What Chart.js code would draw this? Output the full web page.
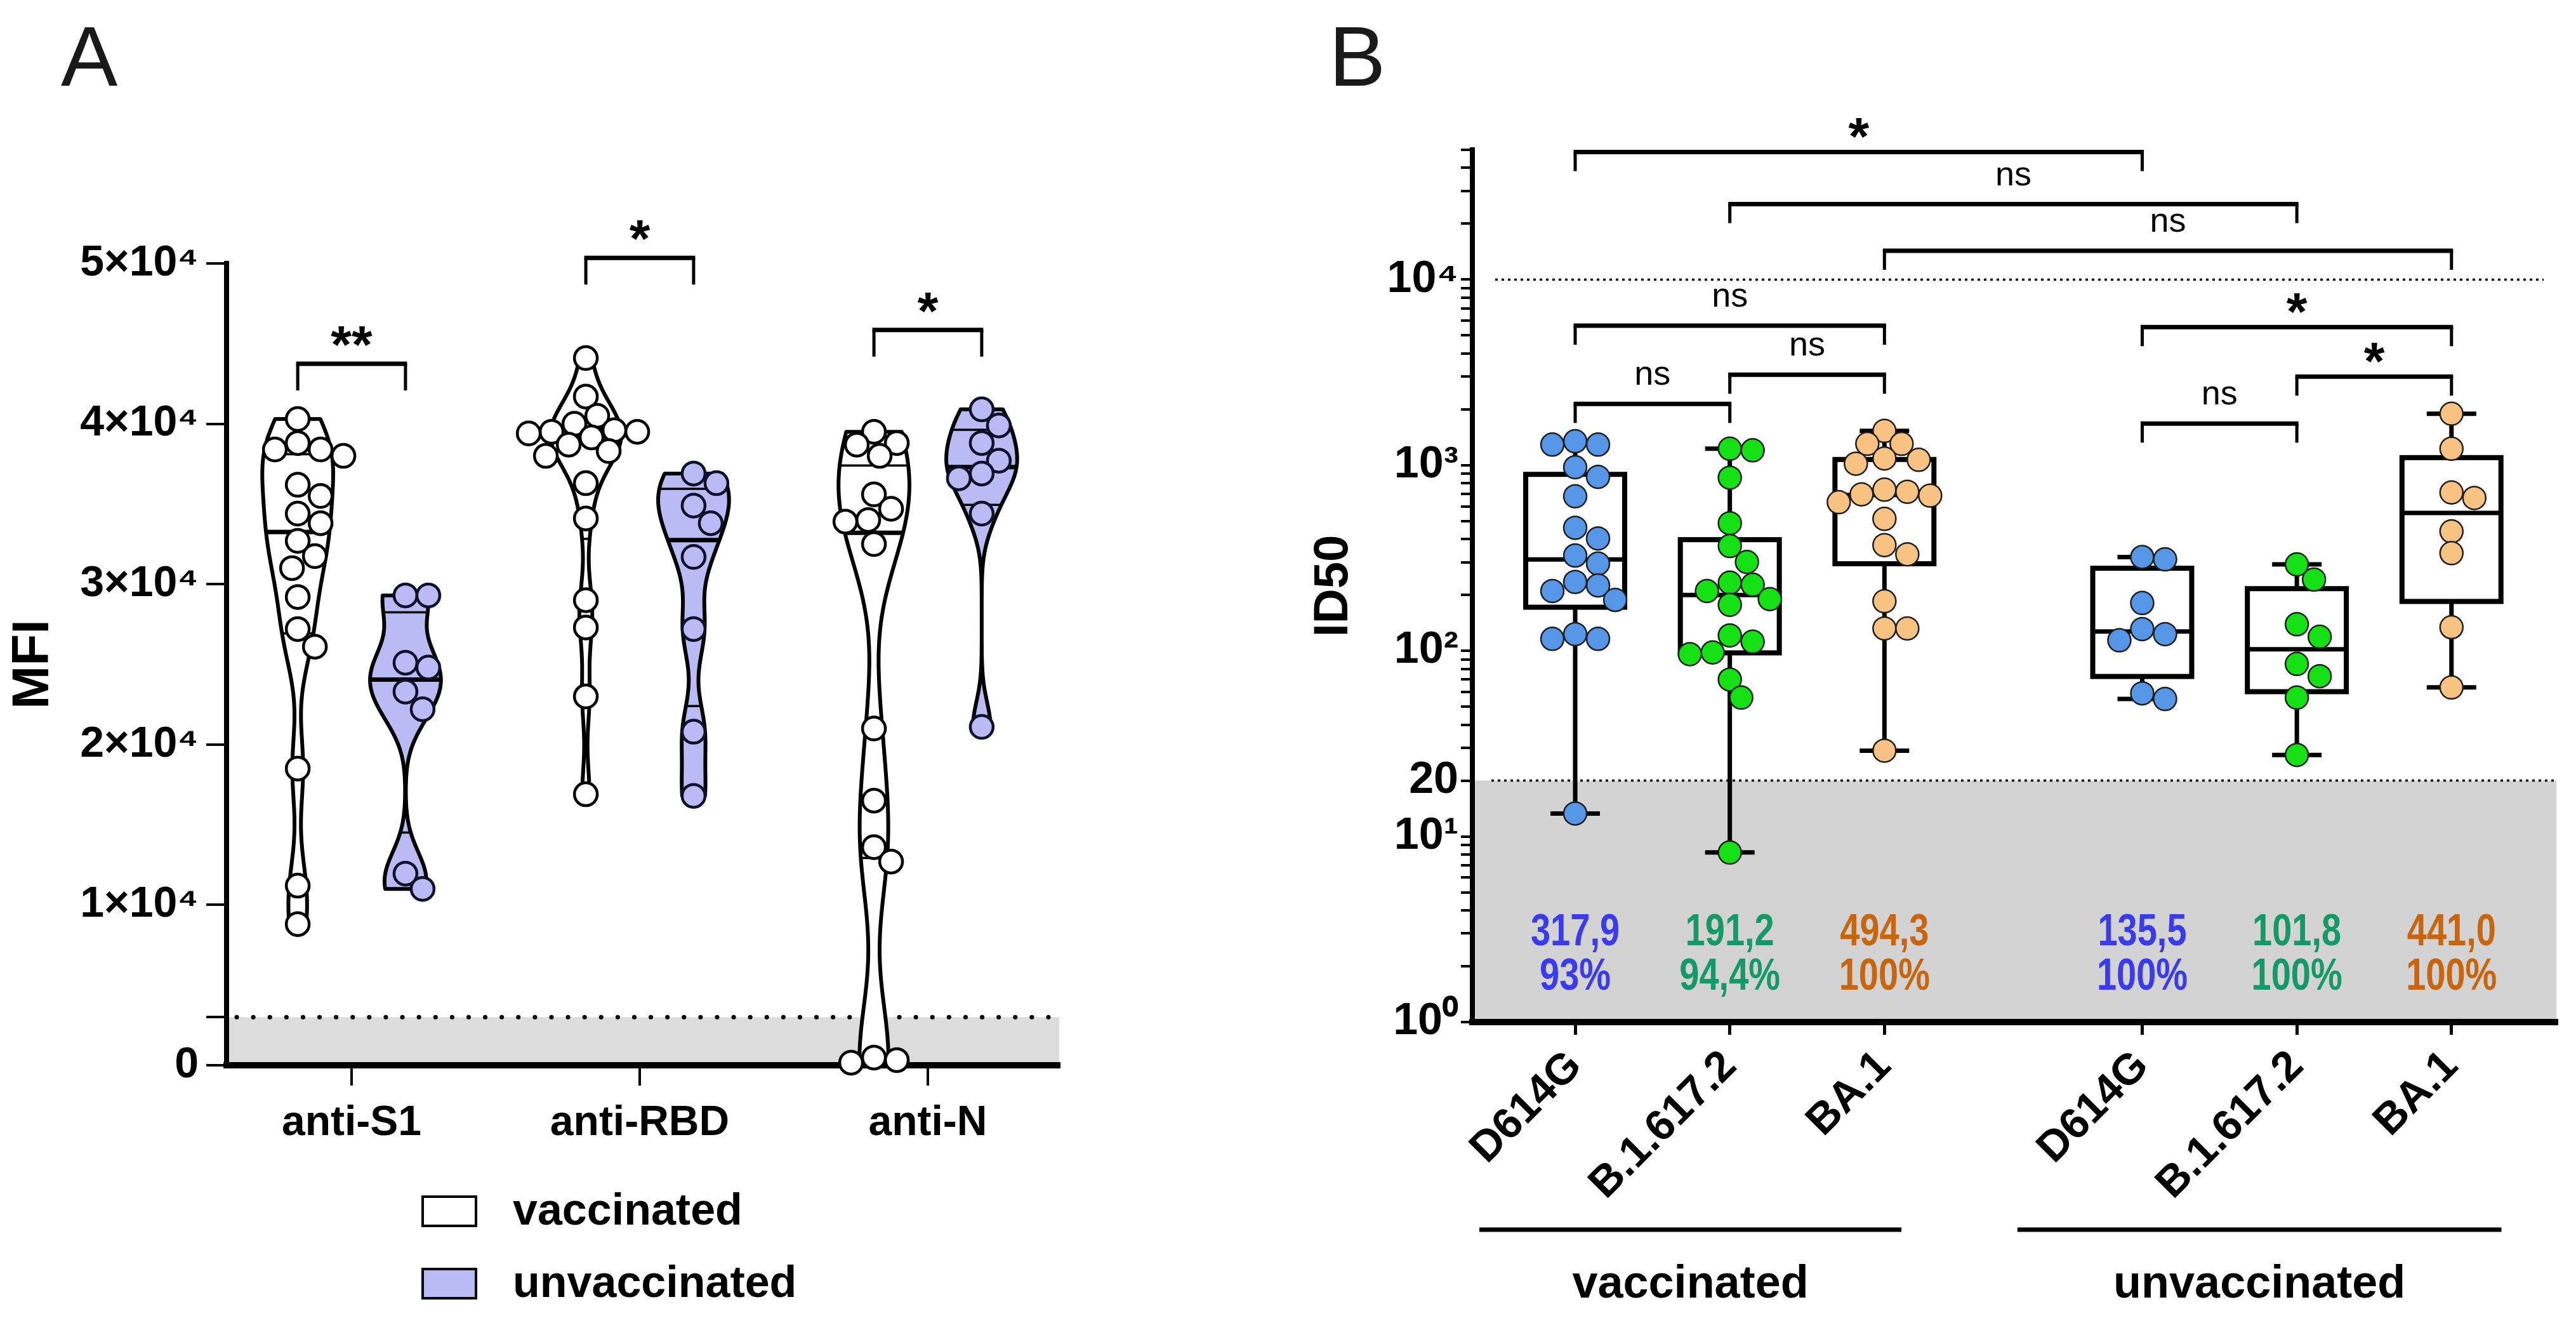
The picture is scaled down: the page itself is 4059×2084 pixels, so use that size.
<!DOCTYPE html>
<html>
<head>
<meta charset="utf-8">
<script src="https://cdn.jsdelivr.net/npm/chart.js@4.4.1/dist/chart.umd.min.js"></script>
<style>
    html, body { margin: 0; padding: 0; background: #fff; }
    body { width: 4059px; height: 2084px; position: relative; overflow: hidden; }
    #wrapA { position: absolute; left: 0; top: 0; width: 1760px; height: 2084px; }
    #wrapB { position: absolute; left: 2050px; top: 0; width: 2009px; height: 2084px; }
</style>
</head>
<body>
<div id="wrapA"><canvas id="chartA"></canvas></div>
<div id="wrapB"><canvas id="chartB"></canvas></div>
<script>
// ---------- Panel A: MFI (violins) ----------
const antigenLabels = ['anti-S1', 'anti-RBD', 'anti-N'];
const mfiTicks = [0, 3000, 10000, 20000, 30000, 40000, 50000];
const mfiCutoff = 3000;

const vaccS1 = [40300, 38800, 38400, 38400, 38000, 36200, 35500, 34400, 33800, 32700, 31750, 31000, 29200, 27200, 26100, 18500, 11200, 8800];
const unvacS1 = [29300, 29300, 25100, 24800, 23300, 22200, 11950, 11000];
const vaccRBD = [44100, 41700, 40500, 40000, 39600, 39500, 39500, 39400, 39150, 38700, 38300, 38000, 36300, 34100, 29000, 27300, 23000, 16900];
const unvacRBD = [36900, 36300, 34900, 33800, 31700, 27200, 20800, 16800];
const vaccN = [39500, 38800, 38700, 38000, 35600, 34700, 34000, 33900, 32500, 21000, 16500, 13600, 12700, 480, 320, 160];
const unvacN = [40900, 39900, 38800, 37700, 36900, 36600, 34400, 21100];

const pairMarksA = ['**', '*', '*'];
const pairLevelsA = [43750, 50350, 45850];

// ---------- Panel B: ID50 (boxes) ----------
const variantLabels = ['D614G', 'B.1.617.2', 'BA.1', 'D614G', 'B.1.617.2', 'BA.1'];
const variantPos = [0, 1, 2, 3.667, 4.667, 5.667];
const id50Major = [1, 10, 20, 100, 1000, 10000];
const id50MajorLabels = ['10\u2070', '10\u00b9', '20', '10\u00b2', '10\u00b3', '10\u2074'];
const id50Cutoff = 20;
const id50Ref = 10000;

const vaccD614G = [1346, 1291, 1291, 975, 865, 680, 460, 403, 326, 295, 235, 225, 210, 188, 123, 116, 116, 13.3];
const vaccDelta = [1227, 1203, 857, 487, 367, 301, 233, 227, 210, 190, 177, 121, 112, 98, 96, 70, 56, 8.2];
const vaccBA1 = [1530, 1304, 1304, 1087, 1069, 1019, 738, 719, 697, 686, 632, 514, 371, 331, 185, 132, 132, 29];
const unvacD614G = [320, 311, 181, 131, 123, 114, 59, 55];
const unvacDelta = [292, 242, 139, 119, 85, 73, 56, 27.5];
const unvacBA1 = [1893, 1227, 713, 666, 440, 336, 134, 63.5];

const gmtLabels = ['317,9', '191,2', '494,3', '135,5', '101,8', '441,0'];
const pctLabels = ['93%', '94,4%', '100%', '100%', '100%', '100%'];
const textColors = ['#3b3bee', '#16996a', '#c8660f', '#3b3bee', '#16996a', '#c8660f'];

const bracketFrom = [0, 1, 2, 0, 3, 1, 4, 0, 3];
const bracketTo = [3, 4, 5, 2, 5, 2, 5, 1, 4];
const bracketLevel = [48600, 25500, 14300, 5650, 5550, 3070, 3000, 2140, 1675];
const bracketMark = ['*', 'ns', 'ns', 'ns', '*', 'ns', '*', 'ns', 'ns'];

const cohortLabels = ['vaccinated', 'unvaccinated'];

// ---------- styling / layout ----------
const FONT = "'Liberation Sans', Arial, Helvetica, sans-serif";
const LAVENDER = '#babaf5';
const violinHalf = 0.123;   // category units
const violinSide = 0.187;
const smoothing = 0.25;     // kde bandwidth as a share of the sd
const boxHalf = 0.32;
const capHalf = 0.16;
const gmtRowY = 3.03;
const pctRowY = 1.735;
const cohortSpans = [[-0.62, 2.11], [2.86, 5.99]];

const groupsA = [
    { values: vaccS1, center: 0 - violinSide, fill: '#ffffff', ds: 0 },
    { values: unvacS1, center: 0 + violinSide, fill: LAVENDER, ds: 1 },
    { values: vaccRBD, center: 1 - violinSide, fill: '#ffffff', ds: 0 },
    { values: unvacRBD, center: 1 + violinSide, fill: LAVENDER, ds: 1 },
    { values: vaccN, center: 2 - violinSide, fill: '#ffffff', ds: 0 },
    { values: unvacN, center: 2 + violinSide, fill: LAVENDER, ds: 1 }
];

const groupsB = [vaccD614G, vaccDelta, vaccBA1, unvacD614G, unvacDelta, unvacBA1];
const pointColorsB = ['#5596e6', '#14e014', '#f8c283', '#5596e6', '#14e014', '#f8c283'];

// GraphPad style quartiles (n+1 method)
function quantile(sorted, p) {
    const pos = p * (sorted.length + 1) - 1;
    if (pos <= 0) return sorted[0];
    if (pos >= sorted.length - 1) return sorted[sorted.length - 1];
    const lo = Math.floor(pos);
    return sorted[lo] + (pos - lo) * (sorted[lo + 1] - sorted[lo]);
}

function stdev(vals) {
    const m = vals.reduce((a, b) => a + b, 0) / vals.length;
    return Math.sqrt(vals.reduce((a, v) => a + (v - m) ** 2, 0) / (vals.length - 1));
}

// Spread points sideways so they don't overlap
function swarm(values, center, xs, ys, r) {
    const placed = [];
    const out = new Array(values.length);
    const order = values.map((v, i) => i).sort((a, b) => values[b] - values[a]);
    const cx = xs.getPixelForValue(center);
    const step = r * 0.5;
    order.forEach(i => {
        const py = ys.getPixelForValue(values[i]);
        for (let k = 0; k < 80; k++) {
            const off = (k % 2 === 1 ? 1 : -1) * Math.ceil(k / 2) * step;
            const px = cx + off;
            if (placed.every(p => Math.hypot(p.px - px, p.py - py) >= 2 * r * 0.93)) {
                placed.push({ px, py });
                out[i] = { x: xs.getValueForPixel(px), y: values[i] };
                break;
            }
        }
    });
    return out;
}

function drawBracket(ctx, x1, x2, y, leg) {
    ctx.lineCap = 'butt';
    ctx.lineJoin = 'miter';
    ctx.lineWidth = 5;
    ctx.beginPath();
    ctx.moveTo(x1, y + leg); ctx.lineTo(x1, y);
    ctx.moveTo(x2, y); ctx.lineTo(x2, y + leg);
    ctx.stroke();
    ctx.lineWidth = 7;
    ctx.beginPath();
    ctx.moveTo(x1 - 2.5, y); ctx.lineTo(x2 + 2.5, y);
    ctx.stroke();
}

function drawMark(ctx, text, x, cy) {
    ctx.fillStyle = '#000';
    ctx.textAlign = 'center';
    ctx.textBaseline = 'alphabetic';
    if (text === 'ns') {
        ctx.font = `54px ${FONT}`;
        ctx.fillText(text, x, cy + 0.26 * 54);
    } else {
        ctx.font = `bold 84px ${FONT}`;
        ctx.fillText(text, x, cy + 0.58 * 84);
    }
}

// ---------- Panel A plugin ----------
const violinPlugin = {
    id: 'violins',
    beforeDraw(chart) {
        const { ctx, chartArea: a, scales: { y } } = chart;
        const yc = y.getPixelForValue(mfiCutoff);
        ctx.save();
        ctx.fillStyle = '#dcdcdc';
        ctx.fillRect(a.left, yc, a.right - a.left, a.bottom - yc);
        ctx.setLineDash([0.1, 26]);
        ctx.lineCap = 'round';
        ctx.lineWidth = 7;
        ctx.strokeStyle = '#000';
        ctx.beginPath();
        ctx.moveTo(a.left + 16, yc);
        ctx.lineTo(a.right, yc);
        ctx.stroke();
        ctx.restore();
    },
    beforeDatasetsDraw(chart) {
        const { ctx, scales: { x, y } } = chart;
        const unit = x.getPixelForValue(1) - x.getPixelForValue(0);
        const W = violinHalf * unit;
        ctx.save();
        groupsA.forEach(g => {
            const s = [...g.values].sort((a, b) => a - b);
            const lo = s[0], hi = s[s.length - 1];
            const h = smoothing * stdev(s);
            const dens = v => s.reduce((acc, d) => acc + Math.exp(-0.5 * ((v - d) / h) ** 2), 0);
            const N = 240;
            const samples = [];
            for (let i = 0; i <= N; i++) {
                const v = lo + (hi - lo) * i / N;
                samples.push([v, dens(v)]);
            }
            const maxD = Math.max(...samples.map(p => p[1]));
            const hw = d => d / maxD * W;
            const cx = x.getPixelForValue(g.center);
            ctx.beginPath();
            samples.forEach(([v, d], i) => {
                const px = cx - hw(d), py = y.getPixelForValue(v);
                if (i === 0) ctx.moveTo(px, py); else ctx.lineTo(px, py);
            });
            for (let i = N; i >= 0; i--) {
                const [v, d] = samples[i];
                ctx.lineTo(cx + hw(d), y.getPixelForValue(v));
            }
            ctx.closePath();
            ctx.fillStyle = g.fill;
            ctx.fill();
            ctx.lineWidth = 6;
            ctx.lineJoin = 'round';
            ctx.strokeStyle = '#000';
            ctx.stroke();
            [[0.25, 3.5], [0.75, 3.5], [0.5, 7]].forEach(([p, lw]) => {
                const v = quantile(s, p);
                const w = hw(dens(v));
                const py = y.getPixelForValue(v);
                ctx.lineWidth = lw;
                ctx.beginPath();
                ctx.moveTo(cx - w, py);
                ctx.lineTo(cx + w, py);
                ctx.stroke();
            });
        });
        ctx.restore();
    },
    afterDraw(chart) {
        const { ctx, scales: { x, y } } = chart;
        ctx.save();
        ctx.strokeStyle = '#000';
        // significance brackets
        pairMarksA.forEach((m, i) => {
            const x1 = x.getPixelForValue(i - violinSide);
            const x2 = x.getPixelForValue(i + violinSide);
            const py = y.getPixelForValue(pairLevelsA[i]);
            drawBracket(ctx, x1, x2, py, 42);
            drawMark(ctx, m, (x1 + x2) / 2, py - 50);
        });
        // legend
        const items = [['vaccinated', '#ffffff', 1908], ['unvaccinated', LAVENDER, 2022]];
        items.forEach(([label, fill, cy]) => {
            ctx.fillStyle = fill;
            ctx.fillRect(666, cy - 23, 84, 46);
            ctx.lineWidth = 4;
            ctx.strokeRect(666, cy - 23, 84, 46);
            ctx.fillStyle = '#000';
            ctx.font = `bold 70px ${FONT}`;
            ctx.textAlign = 'left';
            ctx.textBaseline = 'middle';
            ctx.fillText(label, 808, cy + 2);
        });
        // panel letter
        ctx.font = `134px ${FONT}`;
        ctx.fillStyle = '#1a1a1a';
        ctx.textAlign = 'left';
        ctx.textBaseline = 'alphabetic';
        ctx.fillText('A', 96, 135);
        ctx.restore();
    }
};

// ---------- Panel B plugin ----------
const boxPlugin = {
    id: 'boxes',
    beforeDraw(chart) {
        const { ctx, chartArea: a, scales: { y } } = chart;
        const yc = y.getPixelForValue(id50Cutoff);
        const yr = y.getPixelForValue(id50Ref);
        ctx.save();
        ctx.fillStyle = '#d3d3d3';
        ctx.fillRect(a.left, yc, a.right - a.left, a.bottom - yc);
        ctx.setLineDash([4, 6]);
        ctx.lineWidth = 3.5;
        ctx.strokeStyle = '#000';
        ctx.beginPath();
        ctx.moveTo(a.left + 30, yc); ctx.lineTo(a.right, yc);
        ctx.moveTo(a.left + 36, yr); ctx.lineTo(a.right - 20, yr);
        ctx.stroke();
        ctx.restore();
    },
    beforeDatasetsDraw(chart) {
        const { ctx, scales: { x, y } } = chart;
        const unit = x.getPixelForValue(1) - x.getPixelForValue(0);
        ctx.save();
        ctx.strokeStyle = '#000';
        ctx.lineCap = 'butt';
        ctx.lineJoin = 'miter';
        groupsB.forEach((vals, i) => {
            const s = [...vals].sort((a, b) => a - b);
            const q1 = y.getPixelForValue(quantile(s, 0.25));
            const med = y.getPixelForValue(quantile(s, 0.5));
            const q3 = y.getPixelForValue(quantile(s, 0.75));
            const lo = y.getPixelForValue(s[0]);
            const hi = y.getPixelForValue(s[s.length - 1]);
            const cx = x.getPixelForValue(variantPos[i]);
            const bw = boxHalf * unit, cw = capHalf * unit;
            ctx.lineWidth = 7;
            ctx.beginPath();
            ctx.moveTo(cx, q3); ctx.lineTo(cx, hi);
            ctx.moveTo(cx - cw, hi); ctx.lineTo(cx + cw, hi);
            ctx.moveTo(cx, q1); ctx.lineTo(cx, lo);
            ctx.moveTo(cx - cw, lo); ctx.lineTo(cx + cw, lo);
            ctx.moveTo(cx - bw, med); ctx.lineTo(cx + bw, med);
            ctx.stroke();
            ctx.lineWidth = 8;
            ctx.strokeRect(cx - bw, q3, 2 * bw, q1 - q3);
        });
        ctx.restore();
    },
    afterDatasetsDraw(chart) {
        const { ctx, scales: { x, y } } = chart;
        ctx.save();
        ctx.textAlign = 'center';
        ctx.textBaseline = 'middle';
        ctx.font = `bold 70px ${FONT}`;
        variantPos.forEach((p, i) => {
            const px = x.getPixelForValue(p);
            ctx.fillStyle = textColors[i];
            [[gmtLabels[i], gmtRowY], [pctLabels[i], pctRowY]].forEach(([t, v]) => {
                ctx.save();
                ctx.translate(px, y.getPixelForValue(v));
                ctx.scale(0.8, 1);
                ctx.fillText(t, 0, 0);
                ctx.restore();
            });
        });
        ctx.restore();
    },
    afterDraw(chart) {
        const { ctx, chartArea: a, scales: { x, y } } = chart;
        ctx.save();
        ctx.strokeStyle = '#000';
        bracketMark.forEach((m, i) => {
            const x1 = x.getPixelForValue(variantPos[bracketFrom[i]]);
            const x2 = x.getPixelForValue(variantPos[bracketTo[i]]);
            const py = y.getPixelForValue(bracketLevel[i]);
            drawBracket(ctx, x1, x2, py, 30);
            drawMark(ctx, m, (x1 + x2) / 2, py - 44);
        });
        // cohort lines and labels
        cohortLabels.forEach((label, i) => {
            const x1 = x.getPixelForValue(cohortSpans[i][0]);
            const x2 = x.getPixelForValue(cohortSpans[i][1]);
            ctx.lineWidth = 7;
            ctx.beginPath();
            ctx.moveTo(x1, a.bottom + 327);
            ctx.lineTo(x2, a.bottom + 327);
            ctx.stroke();
            ctx.fillStyle = '#000';
            ctx.font = `bold 72px ${FONT}`;
            ctx.textAlign = 'center';
            ctx.textBaseline = 'middle';
            ctx.fillText(label, (x1 + x2) / 2, a.bottom + 414);
        });
        ctx.font = `134px ${FONT}`;
        ctx.fillStyle = '#1a1a1a';
        ctx.textAlign = 'left';
        ctx.textBaseline = 'alphabetic';
        ctx.fillText('B', 44, 135);
        ctx.restore();
    }
};

// ---------- charts ----------
Chart.defaults.font.family = FONT;
Chart.defaults.color = '#000';

const chartA = new Chart(document.getElementById('chartA'), {
    type: 'scatter',
    data: {
        datasets: [
            {
                label: 'vaccinated',
                data: groupsA.filter(g => g.ds === 0).flatMap(g => g.values.map(v => ({ x: g.center, y: v }))),
                backgroundColor: '#ffffff',
                borderColor: '#000',
                borderWidth: 4.5,
                pointRadius: 18,
                clip: false
            },
            {
                label: 'unvaccinated',
                data: groupsA.filter(g => g.ds === 1).flatMap(g => g.values.map(v => ({ x: g.center, y: v }))),
                backgroundColor: LAVENDER,
                borderColor: '#10102a',
                borderWidth: 4.5,
                pointRadius: 18,
                clip: false
            }
        ]
    },
    options: {
        animation: false,
        responsive: true,
        maintainAspectRatio: false,
        devicePixelRatio: 1,
        events: [],
        layout: { padding: { top: 415, right: 91, left: 0, bottom: 0 } },
        plugins: { legend: { display: false }, tooltip: { enabled: false } },
        scales: {
            x: {
                type: 'linear',
                min: -0.434,
                max: 2.456,
                afterBuildTicks: s => { s.ticks = antigenLabels.map((l, i) => ({ value: i })); },
                afterFit: s => { s.height = 406; },
                ticks: {
                    callback: v => antigenLabels[Math.round(v)],
                    font: { size: 66, weight: 'bold' },
                    color: '#000',
                    padding: 20,
                    autoSkip: false,
                    maxRotation: 0
                },
                grid: { drawOnChartArea: false, drawTicks: true, tickLength: 32, lineWidth: 4, color: '#000' },
                border: { display: true, width: 10, color: '#000' }
            },
            y: {
                type: 'linear',
                min: 0,
                max: 50000,
                afterBuildTicks: s => { s.ticks = mfiTicks.map(v => ({ value: v })); },
                afterFit: s => { s.width = 357; },
                ticks: {
                    callback: v => v === 0 ? '0' : (v === mfiCutoff ? '' : (v / 10000) + '\u00d710\u2074'),
                    font: { size: 68, weight: 'bold' },
                    color: '#000',
                    padding: 12,
                    autoSkip: false
                },
                grid: { drawOnChartArea: false, drawTicks: true, tickLength: 32, lineWidth: 4, color: '#000' },
                border: { display: true, width: 8, color: '#000' },
                title: { display: true, text: 'MFI', font: { size: 82, weight: 'bold' }, color: '#000', padding: { top: 4, bottom: 0 } }
            }
        }
    },
    plugins: [violinPlugin]
});

// log axis tick list: 1..9 per decade up to 5x10^4
const id50Ticks = [];
[1, 10, 100, 1000, 10000].forEach(d => {
    for (let m = 1; m <= 9; m++) if (d * m <= 50000) id50Ticks.push(d * m);
});

const chartB = new Chart(document.getElementById('chartB'), {
    type: 'scatter',
    data: {
        datasets: groupsB.map((vals, i) => ({
            label: variantLabels[i],
            data: vals.map(v => ({ x: variantPos[i], y: v })),
            backgroundColor: pointColorsB[i],
            borderColor: '#1e1e1e',
            borderWidth: 2.5,
            pointRadius: 18,
            clip: false
        }))
    },
    options: {
        animation: false,
        responsive: true,
        maintainAspectRatio: false,
        devicePixelRatio: 1,
        events: [],
        layout: { padding: { top: 236, right: 31, left: 0, bottom: 0 } },
        plugins: { legend: { display: false }, tooltip: { enabled: false } },
        scales: {
            x: {
                type: 'linear',
                min: -0.665,
                max: 6.345,
                afterBuildTicks: s => { s.ticks = variantPos.map(v => ({ value: v })); },
                afterFit: s => { s.height = 474; },
                ticks: {
                    callback: v => variantLabels[variantPos.findIndex(p => Math.abs(p - v) < 0.01)],
                    font: { size: 68, weight: 'bold' },
                    color: '#000',
                    padding: 10,
                    autoSkip: false,
                    minRotation: 45,
                    maxRotation: 45
                },
                grid: { drawOnChartArea: false, drawTicks: true, tickLength: 20, lineWidth: 5, color: '#000' },
                border: { display: true, width: 10, color: '#000' }
            },
            y: {
                type: 'logarithmic',
                min: 1,
                max: 50000,
                afterBuildTicks: s => { s.ticks = id50Ticks.map(v => ({ value: v })); },
                afterFit: s => { s.width = 270; },
                ticks: {
                    callback: v => {
                        const k = id50Major.indexOf(v);
                        return k >= 0 ? id50MajorLabels[k] : '';
                    },
                    font: { size: 70, weight: 'bold' },
                    color: '#000',
                    padding: 4,
                    autoSkip: false
                },
                grid: { drawOnChartArea: false, drawTicks: true, tickLength: 18, lineWidth: 4, color: '#000' },
                border: { display: true, width: 8, color: '#000' },
                title: { display: true, text: 'ID50', font: { size: 76, weight: 'bold' }, color: '#000', padding: { top: 6, bottom: 0 } }
            }
        }
    },
    plugins: [boxPlugin]
});

// Arrange the points in swarms once the scales are known
function spreadPoints() {
    const xa = chartA.scales.x, ya = chartA.scales.y;
    [0, 1].forEach(ds => {
        chartA.data.datasets[ds].data = groupsA.filter(g => g.ds === ds)
            .flatMap(g => swarm(g.values, g.center, xa, ya, 18));
    });
    chartA.update('none');

    const xb = chartB.scales.x, yb = chartB.scales.y;
    groupsB.forEach((vals, i) => {
        chartB.data.datasets[i].data = swarm(vals, variantPos[i], xb, yb, 18);
    });
    chartB.update('none');
}
spreadPoints();
</script>
</body>
</html>
